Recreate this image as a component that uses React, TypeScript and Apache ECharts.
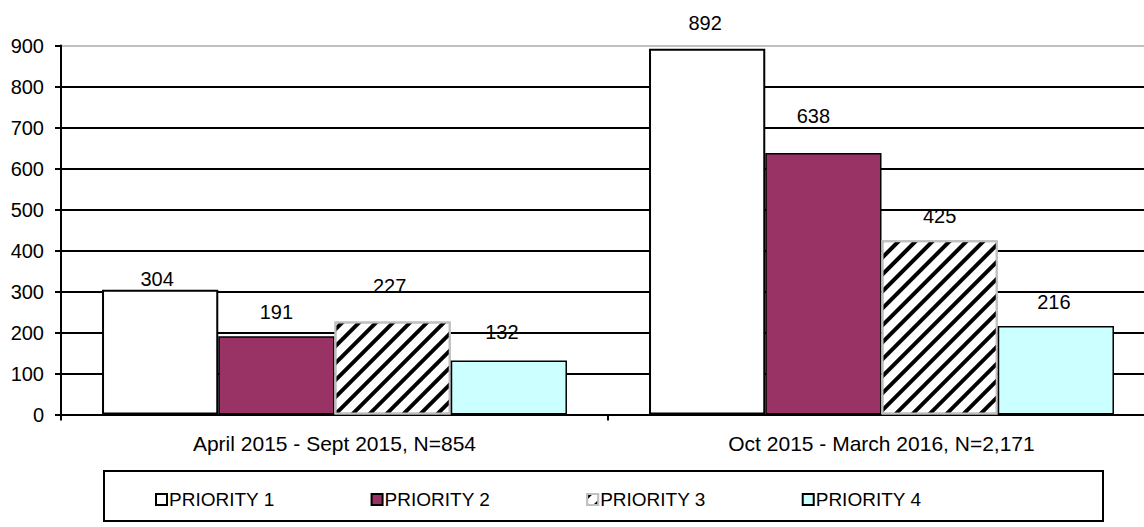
import React, { useEffect, useRef } from "react";
import * as echarts from "echarts";

const categories = ["April 2015 - Sept 2015, N=854", "Oct 2015 - March 2016, N=2,171"];
const seriesNames = ["PRIORITY 1", "PRIORITY 2", "PRIORITY 3", "PRIORITY 4"];
const priority1 = [304, 892];
const priority2 = [191, 638];
const priority3 = [227, 425];
const priority4 = [132, 216];
const yTicks = { min: 0, max: 900, interval: 100 };

// label placement styling (distance above bar, horizontal shift)
const labelDistance = [
  [1, 16],
  [14, 27],
  [25, 14],
  [18, 14],
];
const labelShiftX = [
  [-3, -2],
  [0, -10],
  [-3, 0],
  [-7, -2],
];

const FONT = "'Liberation Sans', Arial, sans-serif";

export default function App() {
  const ref = useRef<HTMLDivElement>(null);
  useEffect(() => {
    if (!ref.current) return;
    const chart = echarts.init(ref.current, undefined, { renderer: "svg" });
    const values = [priority1, priority2, priority3, priority4];
    const styles: any[] = [
      { color: "#ffffff", borderColor: "#000000", borderWidth: 2 },
      { color: "#993366", borderColor: "#000000", borderWidth: 1.5 },
      {
        color: "#ffffff",
        borderColor: "#c0c0c0",
        borderWidth: 2,
        decal: {
          symbol: "rect",
          symbolSize: 1,
          color: "#000000",
          dashArrayX: [1, 0],
          dashArrayY: [4, 7.5],
          rotation: -Math.PI / 4,
        },
      },
      { color: "#ccffff", borderColor: "#000000", borderWidth: 1.5 },
    ];
    const gridColors = ["#000", "#000", "#000", "#000", "#000", "#000", "#000", "#000", "#000", "#c0c0c0"];
    chart.setOption({
      animation: false,
      backgroundColor: "#ffffff",
      textStyle: { fontFamily: FONT },
      grid: { left: 61, right: -11, top: 45.5, bottom: 112.5, outerBoundsMode: "none", containLabel: false },
      xAxis: {
        type: "category",
        data: categories,
        axisLine: { lineStyle: { color: "#000", width: 2 } },
        axisTick: { show: true, length: 6, lineStyle: { color: "#000", width: 2 } },
        axisLabel: { color: "#000", fontSize: 21, fontFamily: FONT, margin: 18 },
      },
      yAxis: {
        type: "value",
        min: yTicks.min,
        max: yTicks.max,
        interval: yTicks.interval,
        axisLine: { show: true, lineStyle: { color: "#000", width: 2 } },
        axisTick: { show: true, length: 6, lineStyle: { color: "#000", width: 2 } },
        axisLabel: { color: "#000", fontSize: 20, fontFamily: FONT, margin: 17 },
        splitLine: { show: true, lineStyle: { color: gridColors, width: 2 } },
      },
      legend: {
        left: 150,
        top: 485,
        itemWidth: 11,
        itemHeight: 11,
        itemGap: 96,
        icon: "rect",
        textStyle: { color: "#000", fontSize: 19, fontFamily: FONT, padding: [0, 0, 0, -3] },
        data: seriesNames,
      },
      graphic: [
        {
          type: "rect",
          shape: { x: 104, y: 471, width: 999, height: 50 },
          style: { fill: "none", stroke: "#000", lineWidth: 2 },
          z: 10,
        },
      ],
      series: values.map((vals, si) => ({
        name: seriesNames[si],
        type: "bar",
        barGap: "0%",
        barCategoryGap: "15%",
        itemStyle: styles[si],
        label: {
          show: true,
          position: "top",
          color: "#000",
          fontSize: 20,
          fontFamily: FONT,
        },
        data: vals.map((v, ci) => ({
          value: v,
          label: { distance: labelDistance[si][ci], offset: [labelShiftX[si][ci], 0] },
        })),
      })),
    });
    return () => chart.dispose();
  }, []);
  return (
    <div
      ref={ref}
      style={{ position: "fixed", left: 0, top: 0, width: 1144, height: 527, background: "#fff" }}
    />
  );
}
